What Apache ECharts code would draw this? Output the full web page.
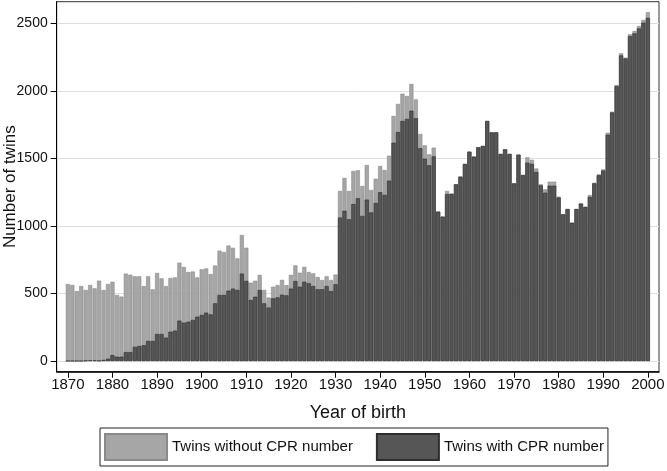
<!DOCTYPE html>
<html>
<head>
<meta charset="utf-8">
<script src="https://cdn.jsdelivr.net/npm/echarts@6/dist/echarts.min.js"></script>
<style>
html,body{margin:0;padding:0;background:#fff;}
#chart{width:667px;height:471px;}
</style>
</head>
<body>
<div id="chart"></div>
<script>
// Years of birth 1870..2000
const years = [];
for (let y = 1870; y <= 2000; y++) years.push(y);

// Total number of twins per birth year (top of light bars)
const totalTwins = [
  570, 563, 518, 555, 526, 563, 538, 595, 526, 570,
  587, 489, 477, 647, 639, 627, 627, 555, 627, 531,
  652, 612, 555, 615, 619, 728, 696, 659, 663, 619,
  679, 685, 644, 707, 817, 807, 855, 838, 760, 933,
  839, 580, 594, 638, 526, 470, 550, 562, 601, 562,
  638, 708, 654, 697, 659, 649, 622, 600, 627, 600,
  640, 1259, 1356, 1259, 1407, 1412, 1296, 1451, 1266, 1350,
  1444, 1414, 1520, 1814, 1903, 1979, 1962, 2051, 1937, 1681,
  1597, 1530, 1580, 1106, 1069, 1259, 1240, 1308, 1365, 1459,
  1550, 1513, 1582, 1592, 1777, 1693, 1693, 1533, 1567, 1533,
  1315, 1528, 1377, 1508, 1490, 1425, 1308, 1271, 1328, 1328,
  1217, 1086, 1125, 1024, 1125, 1167, 1143, 1229, 1320, 1382,
  1419, 1690, 1846, 2043, 2278, 2246, 2419, 2443, 2480, 2525,
  2582
];

// Twins with CPR number (dark bars)
const withCPR = [
  0, 0, 0, 0, 3, 5, 5, 3, 8, 17,
  44, 32, 32, 66, 66, 105, 111, 117, 149, 149,
  200, 200, 173, 217, 225, 299, 284, 291, 304, 328,
  341, 358, 345, 427, 489, 489, 521, 536, 526, 647,
  593, 452, 476, 526, 427, 396, 464, 471, 491, 486,
  536, 592, 550, 587, 575, 555, 531, 531, 555, 518,
  568, 1062, 1112, 1049, 1162, 1205, 1074, 1195, 1100, 1170,
  1250, 1230, 1335, 1616, 1695, 1777, 1792, 1853, 1797, 1575,
  1498, 1449, 1515, 1106, 1069, 1236, 1236, 1308, 1365, 1459,
  1550, 1513, 1582, 1592, 1777, 1693, 1693, 1533, 1567, 1533,
  1315, 1528, 1377, 1468, 1460, 1400, 1300, 1246, 1298, 1298,
  1210, 1086, 1125, 1024, 1125, 1165, 1140, 1215, 1315, 1375,
  1410, 1675, 1840, 2035, 2262, 2240, 2405, 2425, 2462, 2505,
  2540
];

const xTickStep = 10;
const yTicks = [0, 500, 1000, 1500, 2000, 2500];

const seriesNames = ['Twins without CPR number', 'Twins with CPR number'];

// Axis spans two empty years either side of the data (as in the original figure)
const axisYears = [];
for (let y = years[0] - 2; y <= years[years.length - 1] + 2; y++) axisYears.push(String(y));

const FONT = '"Liberation Sans", Arial, sans-serif';
const isTickYear = (idx, val) => Number(val) % xTickStep === 0;

const chart = echarts.init(document.getElementById('chart'), null, {renderer: 'canvas'});

const option = {
  animation: false,
  backgroundColor: '#ffffff',
  textStyle: {fontFamily: FONT, color: '#111'},
  grid: {
    left: 56.7, right: 8, top: 1.7, bottom: 99.3,
    show: true, borderColor: '#333', borderWidth: 1,
    containLabel: false,
    outerBoundsMode: 'none'
  },
  legend: {
    data: seriesNames,
    left: 100, top: 428,
    orient: 'horizontal',
    itemWidth: 62, itemHeight: 26,
    itemGap: 23,
    padding: [5, 4, 5, 4],
    borderColor: '#222', borderWidth: 1,
    icon: 'rect',
    textStyle: {fontFamily: FONT, fontSize: 15, color: '#111'}
  },
  xAxis: {
    type: 'category',
    data: axisYears,
    boundaryGap: true,
    name: 'Year of birth',
    nameLocation: 'middle',
    nameGap: 32,
    nameTextStyle: {fontFamily: FONT, fontSize: 18, color: '#111'},
    axisLine: {show: true, onZero: false, lineStyle: {color: '#000', width: 1.5}},
    axisTick: {show: true, length: 6, alignWithLabel: true, interval: isTickYear, lineStyle: {color: '#000'}},
    axisLabel: {show: true, margin: 6, fontSize: 15, color: '#111', fontFamily: FONT, interval: isTickYear},
    splitLine: {show: false}
  },
  yAxis: {
    type: 'value',
    min: -79, max: 2660,
    name: 'Number of twins',
    nameLocation: 'middle',
    nameGap: 38,
    nameMoveOverlap: false,
    nameTextStyle: {fontFamily: FONT, fontSize: 17, color: '#111'},
    axisLine: {show: true, lineStyle: {color: '#000', width: 1}},
    axisTick: {show: true, length: 6, lineStyle: {color: '#000'}, customValues: yTicks},
    axisLabel: {show: true, margin: 9, fontSize: 14, color: '#111', fontFamily: FONT,
                customValues: yTicks, formatter: v => String(v)},
    splitLine: {show: true, lineStyle: {color: '#dedede', width: 1}}
  },
  series: [
    {
      name: seriesNames[0],
      type: 'bar',
      data: years.map((y, i) => [String(y), totalTwins[i]]),
      barWidth: '92%',
      barGap: '-100%',
      itemStyle: {color: '#a6a6a6', borderColor: '#8a8a8a', borderWidth: 0.6}
    },
    {
      name: seriesNames[1],
      type: 'bar',
      data: years.map((y, i) => [String(y), withCPR[i]]),
      barWidth: '92%',
      barGap: '-100%',
      itemStyle: {color: '#565656', borderColor: '#2e2e2e', borderWidth: 0.6}
    }
  ]
};

chart.setOption(option);
</script>
</body>
</html>
